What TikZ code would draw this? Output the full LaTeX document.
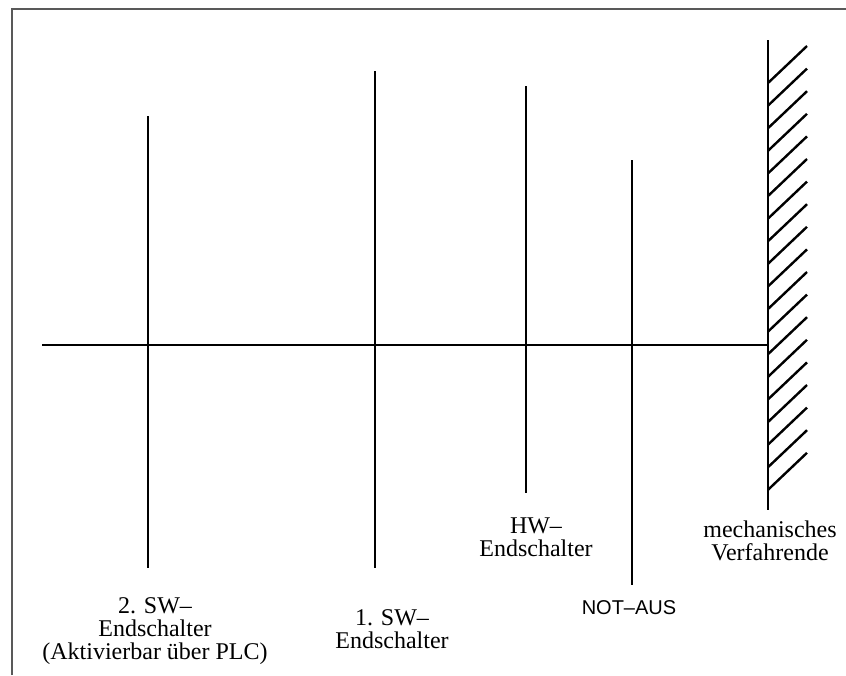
\documentclass[tikz,border=0pt]{standalone}
\usepackage{fontspec}
\setmainfont{Liberation Serif}
\newfontfamily\labelsans{Liberation Sans}
\begin{document}
\begin{tikzpicture}[x=0.5pt,y=-0.5pt,
  frame/.style={draw=black!65,line width=1pt},
  bar/.style={draw=black,line width=1.45pt},
  hatchline/.style={draw=black,line width=1.2pt},
  caption/.style={inner sep=0pt,align=center,font=\fontsize{12}{11.5}\selectfont,anchor=base},
  sanscaption/.style={inner sep=0pt,font=\labelsans\fontsize{10}{12}\selectfont,anchor=base}]
\useasboundingbox (0,0) rectangle (846,675);

% open frame: top and left edges
\coordinate (frameBL) at (12,675);
\coordinate (frameTL) at (12,9);
\coordinate (frameTR) at (846,9);
\draw[frame] (frameBL) -- (frameTL) -- (frameTR);

% travel axis
\coordinate (axisL) at (42,345);
\coordinate (axisR) at (768,345);
\draw[bar] (axisL) -- (axisR);

% limit markers
\coordinate (swTwoT) at (148,116);  \coordinate (swTwoB) at (148,568);
\coordinate (swOneT) at (375,71);   \coordinate (swOneB) at (375,568);
\coordinate (hwT)    at (526,86);   \coordinate (hwB)    at (526,493);
\coordinate (notT)   at (632,160);  \coordinate (notB)   at (632,585);
\coordinate (wallT)  at (768,40);   \coordinate (wallB)  at (768,510);
\draw[bar] (swTwoT) -- (swTwoB);
\draw[bar] (swOneT) -- (swOneB);
\draw[bar] (hwT) -- (hwB);
\draw[bar] (notT) -- (notB);
\draw[bar] (wallT) -- (wallB);

% wall hatching
\foreach \i in {0,...,18}{
  \draw[hatchline] (768,83+\i*22.6) -- (807,46+\i*22.6);
}

% captions (anchored at the baseline of the last line)
\node[caption] (lblSwTwo) at (155,659) {2. SW–\\Endschalter\\(Aktivierbar über PLC)};
\node[caption] (lblSwOne) at (392,648) {1. SW–\\Endschalter};
\node[caption] (lblHw)    at (536,556) {HW–\\Endschalter};
\node[sanscaption] (lblNot) at (629,614) {NOT–AUS};
\node[caption] (lblWall)  at (770,560) {mechanisches\\Verfahrende};
\end{tikzpicture}
\end{document}
